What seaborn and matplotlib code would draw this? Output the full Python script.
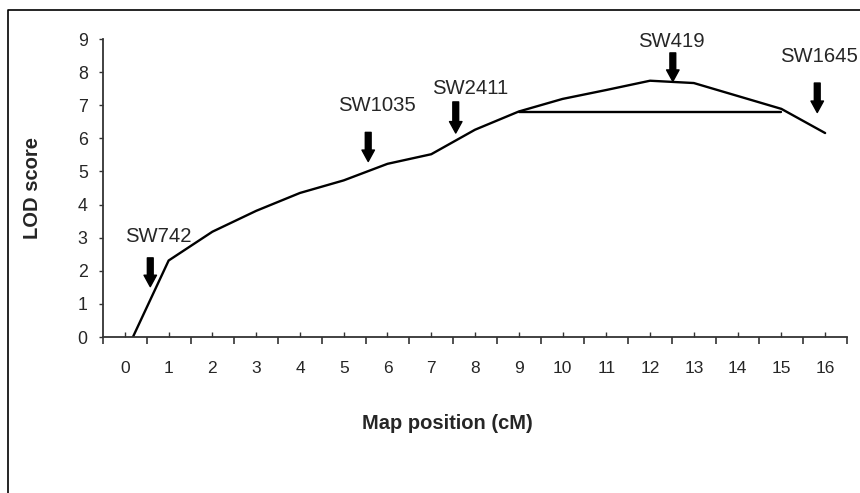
import matplotlib
matplotlib.use("Agg")
import matplotlib.pyplot as plt
from matplotlib.lines import Line2D
import pandas as pd
import seaborn as sns

# LOD profile along the map
positions = [0, 1, 2, 3, 4, 5, 6, 7, 8, 9, 10, 11, 12, 13, 14, 15, 16]
lod = [-0.52, 2.31, 3.18, 3.81, 4.35, 4.73, 5.23, 5.52, 6.26, 6.81,
       7.19, 7.46, 7.74, 7.67, 7.28, 6.89, 6.16]

# 1-LOD support interval
ci_x = [9, 15]
ci_y = [6.8, 6.8]

# marker arrows
markers = ["SW742", "SW1035", "SW2411", "SW419", "SW1645"]
marker_pos = [0.58, 5.56, 7.56, 12.52, 15.82]
arrow_top = [2.39, 6.18, 7.10, 8.58, 7.67]
arrow_tip = [1.52, 5.30, 6.16, 7.72, 6.78]
label_x = [0.76, 5.77, 7.89, 12.49, 15.85]
label_y = [3.05, 7.0, 7.49, 8.93, 8.46]

sns.set_style("white")
plt.rcParams['font.family'] = ['Liberation Sans', 'DejaVu Sans']

fig = plt.figure(figsize=(8.6, 4.93), dpi=100)
ax = fig.add_axes([103 / 860, 1 - 337 / 493, 744 / 860, 298 / 493])

df = pd.DataFrame({"pos": positions, "lod": lod})
sns.lineplot(data=df, x="pos", y="lod", ax=ax, color="black", lw=1.7)
ci = pd.DataFrame({"pos": ci_x, "lod": ci_y})
sns.lineplot(data=ci, x="pos", y="lod", ax=ax, color="black", lw=1.7)

for name, mx, top, tip, lx, ly in zip(markers, marker_pos, arrow_top, arrow_tip, label_x, label_y):
    ax.annotate("", xy=(mx, tip), xytext=(mx, top),
                arrowprops=dict(arrowstyle="simple,head_length=0.55,head_width=0.6,tail_width=0.28",
                                color="black", mutation_scale=15, shrinkA=0, shrinkB=0))
    ax.text(lx, ly, name, ha="center", va="center", fontsize=14.6, clip_on=False)

ax.set_xlim(-0.5, 16.5)
ax.set_ylim(0, 9)
ax.set_xticks(positions)
ax.set_xticks([p - 0.5 for p in positions] + [16.5], minor=True)
ax.set_yticks(range(10))
ax.tick_params(axis="x", which="major", direction="in", length=3.5, width=1, pad=17,
               labelsize=12.5, color="#333333", bottom=True)
ax.tick_params(axis="x", which="minor", direction="out", length=5, width=1.2,
               color="#333333", bottom=True)
ax.tick_params(axis="y", direction="out", length=3, width=1, pad=8,
               labelsize=12.8, color="#333333", left=True)

sns.despine(ax=ax)
for s in ["left", "bottom"]:
    ax.spines[s].set_color("#333333")
    ax.spines[s].set_linewidth(1.3)

ax.set_xlabel("Map position (cM)", fontsize=14.5, fontweight="bold")
ax.xaxis.set_label_coords((447 - 103) / 744, -(414 - 337) / 298)
ax.set_ylabel("LOD score", fontsize=14.5, fontweight="bold")
ax.yaxis.set_label_coords(-(103 - 42) / 744, 0.5)

# chart border (only top and left edges show in the crop)
fig.add_artist(Line2D([8 / 860, 8 / 860, 1.0], [0.0, 1 - 10 / 493, 1 - 10 / 493],
                      transform=fig.transFigure, color="black", lw=1.2))

fig.savefig("out.png", dpi=100)
